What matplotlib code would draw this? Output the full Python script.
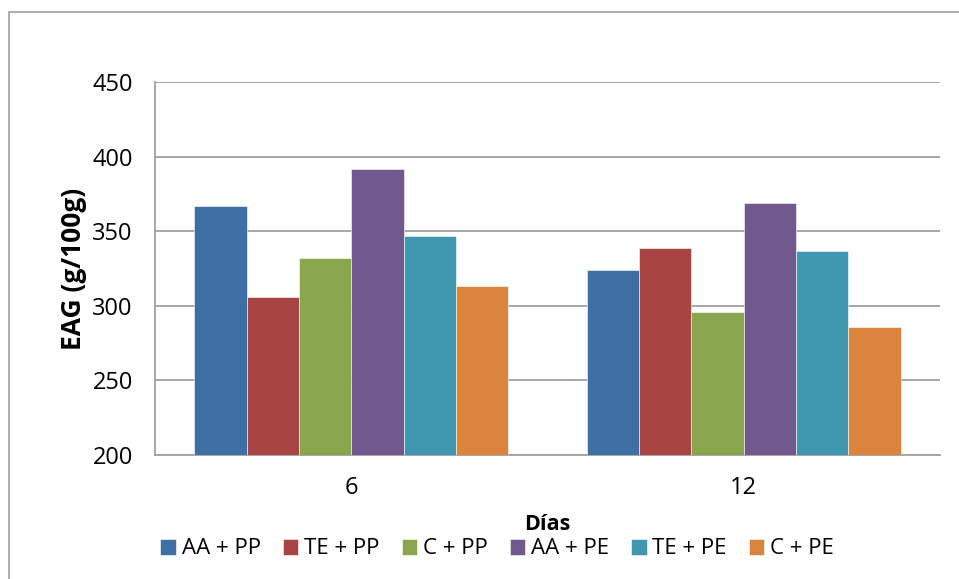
import matplotlib.pyplot as plt
import numpy as np
from matplotlib.patches import Rectangle

plt.rcParams["font.family"] = ["Open Sans", "DejaVu Sans"]

days = ["6", "12"]
series = ["AA + PP", "TE + PP", "C + PP", "AA + PE", "TE + PE", "C + PE"]
aa_pp = [367, 324]
te_pp = [306, 339]
c_pp = [332, 296]
aa_pe = [392, 369]
te_pe = [347, 337]
c_pe = [313, 286]
colors = ["#3E70A6", "#A84543", "#89A54E", "#71588F", "#4098B0", "#DB843D"]

values = [aa_pp, te_pp, c_pp, aa_pe, te_pe, c_pe]

fig = plt.figure(figsize=(9.59, 5.79), dpi=100)
ax = fig.add_axes([155 / 959, 1 - 455 / 579, 785 / 959, 373 / 579])

# outer chart border (runs off the right and bottom edges)
fig.patches.append(Rectangle((9 / 959, -0.05), 1.0, 1 - 12 / 579 + 0.05,
                             transform=fig.transFigure, fill=False,
                             edgecolor="#A6A6A6", linewidth=1.3))

x = np.arange(len(days))
width = 0.8 / len(series)
for i, (name, vals, col) in enumerate(zip(series, values, colors)):
    offs = (i - (len(series) - 1) / 2) * width
    ax.bar(x + offs, np.array(vals) - 200, width, bottom=200, color=col,
           edgecolor="#FFFFFF", linewidth=0.4, label=name, zorder=3)

ax.set_xlim(-0.5, 1.5)
ax.set_ylim(200, 450)
ax.set_yticks(np.arange(200, 451, 50))
ax.set_xticks(x)
ax.set_xticklabels(days)
ax.grid(axis="y", color="#A0A0A0", linewidth=1.3, zorder=0)
ax.tick_params(axis="both", length=0, labelsize=17, colors="#000000")
ax.tick_params(axis="y", pad=16)
ax.tick_params(axis="x", pad=15)
for s in ["top", "right"]:
    ax.spines[s].set_visible(False)
for s in ["left", "bottom"]:
    ax.spines[s].set_color("#A0A0A0")
    ax.spines[s].set_linewidth(1.3)

ax.set_ylabel("EAG (g/100g)", fontsize=19, fontweight="bold", labelpad=4)
ax.set_xlabel("Días", fontsize=15.5, fontweight="bold", labelpad=10)

fig.legend(*ax.get_legend_handles_labels(), loc="center",
           bbox_to_anchor=(497 / 959, 1 - 549 / 579), ncol=6,
           frameon=False, fontsize=16, handlelength=0.7, handleheight=0.7,
           handletextpad=0.25, columnspacing=1.0, borderaxespad=0)

fig.savefig("out.png", dpi=100, facecolor="white")
